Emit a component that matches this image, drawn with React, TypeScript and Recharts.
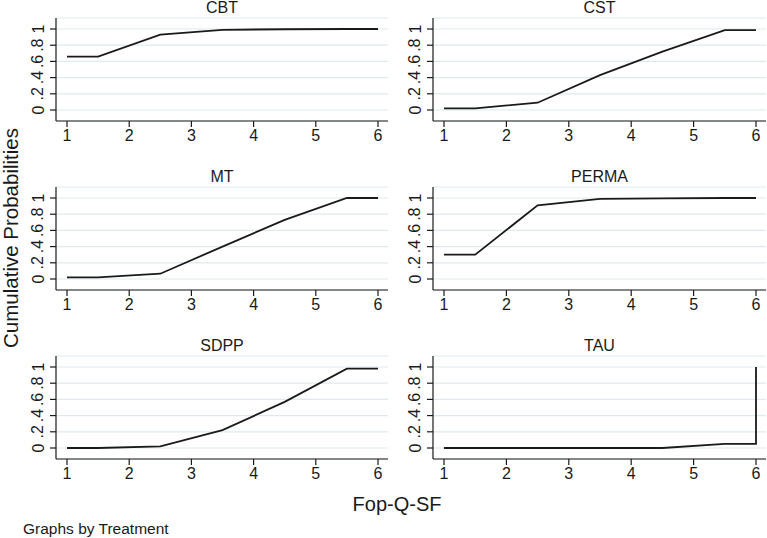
import React from 'react';
import { LineChart, Line, XAxis, YAxis, CartesianGrid } from 'recharts';

// Fop-Q-SF levels shared by all treatments
const xLevels = [1, 1.5, 2.5, 3.5, 4.5, 5.5, 6];
// TAU has a closing jump at level 6
const tauLevels = [1, 1.5, 2.5, 3.5, 4.5, 5.5, 6, 6];

const cbtValues = [0.66, 0.66, 0.93, 0.99, 0.997, 1, 1];
const cstValues = [0.02, 0.02, 0.09, 0.43, 0.72, 0.985, 0.985];
const mtValues = [0.02, 0.02, 0.065, 0.4, 0.73, 1, 1];
const permaValues = [0.3, 0.3, 0.91, 0.99, 0.995, 1, 1];
const sdppValues = [0, 0, 0.02, 0.22, 0.57, 0.98, 0.98];
const tauValues = [0, 0, 0, 0, 0, 0.05, 0.05, 1];

const xTicks = [1, 2, 3, 4, 5, 6];
const yTicks = [0, 0.2, 0.4, 0.6, 0.8, 1];
const yTickLabels = ['0', '.2', '.4', '.6', '.8', '1'];

const FONT = '"Liberation Sans", Arial, Helvetica, sans-serif';
const INK = '#1a1a1a';
const GRID = '#dfeaee';

type Panel = { title: string; xs: number[]; ys: number[]; col: 0 | 1; row: number };

const panels: Panel[] = [
  { title: 'CBT', xs: xLevels, ys: cbtValues, col: 0, row: 0 },
  { title: 'CST', xs: xLevels, ys: cstValues, col: 1, row: 0 },
  { title: 'MT', xs: xLevels, ys: mtValues, col: 0, row: 1 },
  { title: 'PERMA', xs: xLevels, ys: permaValues, col: 1, row: 1 },
  { title: 'SDPP', xs: xLevels, ys: sdppValues, col: 0, row: 2 },
  { title: 'TAU', xs: tauLevels, ys: tauValues, col: 1, row: 2 },
];

const ROW_STEP = 169;
const PLOT_TOP = 18;
const PLOT_H = 103;
const X_AXIS_H = 30;

// vertical tick labels, read bottom to top
const YTick = (props: any) => {
  const { x, y, payload } = props;
  const idx = yTicks.indexOf(payload.value);
  const label = idx >= 0 ? yTickLabels[idx] : String(payload.value);
  return (
    <text
      x={x}
      y={y}
      transform={`rotate(-90, ${x}, ${y})`}
      textAnchor="middle"
      dominantBaseline="central"
      fill={INK}
      fontSize={16}
      fontFamily={FONT}
    >
      {label}
    </text>
  );
};

function PanelChart({ panel }: { panel: Panel }) {
  const data = panel.xs.map((x, i) => ({ x, y: panel.ys[i] }));
  const left = panel.col === 0 ? 0 : 384;
  const width = panel.col === 0 ? 388 : 383;
  const marginLeft = panel.col === 0 ? 16 : 9;
  const marginRight = panel.col === 0 ? 0 : 1;
  const top = panel.row * ROW_STEP;
  const plotLeft = left + marginLeft + 40;
  const plotRight = left + width - marginRight;

  return (
    <>
      <div
        style={{
          position: 'absolute',
          left: (plotLeft + plotRight) / 2,
          top: top + 8,
          transform: 'translate(-50%, -50%)',
          fontFamily: FONT,
          fontSize: 16,
          color: INK,
          whiteSpace: 'nowrap',
        }}
      >
        {panel.title}
      </div>
      <div style={{ position: 'absolute', left, top }}>
        <LineChart
          width={width}
          height={PLOT_TOP + PLOT_H + X_AXIS_H}
          data={data}
          margin={{ top: PLOT_TOP, right: marginRight, left: marginLeft, bottom: 0 }}
        >
          <CartesianGrid vertical={false} stroke={GRID} strokeWidth={1.2} />
          <XAxis
            dataKey="x"
            type="number"
            domain={[1, 6]}
            ticks={xTicks}
            padding={{ left: 11, right: 10 }}
            height={X_AXIS_H}
            tickSize={6}
            tickMargin={3}
            axisLine={{ stroke: INK, strokeWidth: 1.2 }}
            tickLine={{ stroke: INK, strokeWidth: 1.2 }}
            tick={{ fill: INK, fontSize: 16, fontFamily: FONT }}
            interval={0}
          />
          <YAxis
            type="number"
            domain={[0, 1]}
            ticks={yTicks}
            padding={{ top: 11, bottom: 11 }}
            width={40}
            tickSize={6}
            tickMargin={12}
            axisLine={{ stroke: INK, strokeWidth: 1.2 }}
            tickLine={{ stroke: INK, strokeWidth: 1.2 }}
            tick={<YTick />}
            interval={0}
          />
          <Line
            type="linear"
            dataKey="y"
            stroke={INK}
            strokeWidth={1.8}
            dot={false}
            isAnimationActive={false}
          />
        </LineChart>
      </div>
    </>
  );
}

export default function App() {
  return (
    <div
      style={{
        position: 'absolute',
        left: 0,
        top: 0,
        width: 767,
        height: 538,
        background: '#ffffff',
        overflow: 'hidden',
        fontFamily: FONT,
      }}
    >
      {panels.map((p) => (
        <PanelChart key={p.title} panel={p} />
      ))}
      <div
        style={{
          position: 'absolute',
          left: 11,
          top: 238,
          transform: 'translate(-50%, -50%) rotate(-90deg)',
          fontSize: 20.5,
          color: INK,
          whiteSpace: 'nowrap',
        }}
      >
        Cumulative Probabilities
      </div>
      <div
        style={{
          position: 'absolute',
          left: 397,
          top: 504,
          transform: 'translate(-50%, -50%)',
          fontSize: 20,
          color: INK,
          whiteSpace: 'nowrap',
        }}
      >
        Fop-Q-SF
      </div>
      <div
        style={{
          position: 'absolute',
          left: 23,
          top: 529,
          transform: 'translateY(-50%)',
          fontSize: 15.5,
          color: INK,
          whiteSpace: 'nowrap',
        }}
      >
        Graphs by Treatment
      </div>
    </div>
  );
}
